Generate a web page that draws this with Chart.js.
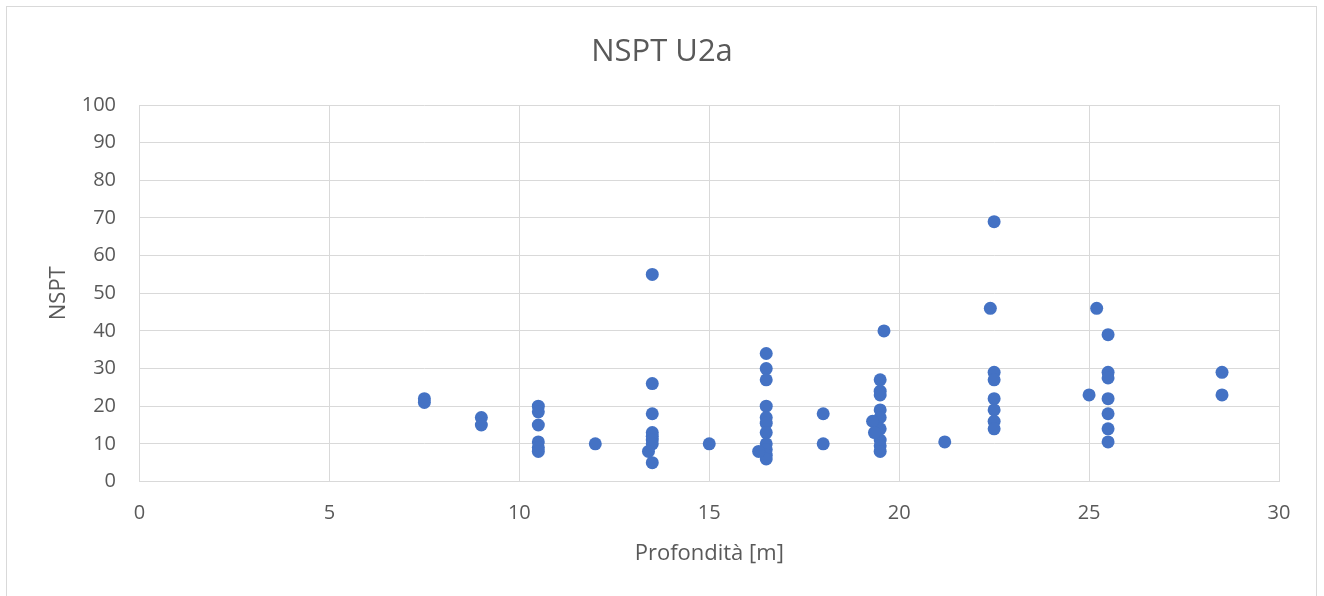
<!DOCTYPE html>
<html>
<head>
<meta charset="utf-8">
<script src="https://cdn.jsdelivr.net/npm/chart.js@4/dist/chart.umd.min.js"></script>
<style>
  html, body { margin: 0; padding: 0; background: #ffffff; }
  body { width: 1324px; height: 596px; position: relative; overflow: hidden; }
  #frame { position: absolute; left: 6px; top: 6px; width: 1311px; height: 620px;
           border: 1px solid #d9d9d9; box-sizing: border-box; }
  #wrap { position: absolute; left: 0; top: 0; width: 1324px; height: 596px; }
</style>
</head>
<body>
<div id="frame"></div>
<div id="wrap"><canvas id="chart" width="1324" height="596"></canvas></div>
<script>
// Depth of each SPT test [m]
const depth = [
  7.5, 7.5,
  9, 9,
  10.5, 10.5, 10.5, 10.5, 10.5, 10.5,
  12,
  13.5, 13.5, 13.5, 13.5, 13.5, 13.5, 13.5, 13.5, 13.4,
  15,
  16.5, 16.5, 16.5, 16.5, 16.5, 16.5, 16.5, 16.5, 16.5, 16.5, 16.5, 16.3,
  18, 18,
  19.6, 19.5, 19.5, 19.5, 19.5, 19.5, 19.5, 19.5, 19.5, 19.5, 19.3, 19.35,
  21.2,
  22.4, 22.5, 22.5, 22.5, 22.5, 22.5, 22.5, 22.5,
  25, 25.2,
  25.5, 25.5, 25.5, 25.5, 25.5, 25.5, 25.5,
  28.5, 28.5
];

// NSPT blow count measured at each depth
const nspt = [
  22, 21,
  17, 15,
  20, 18.5, 15, 10.5, 9, 8,
  10,
  55, 26, 18, 13, 12, 11, 10, 5, 8,
  10,
  34, 30, 27, 20, 17, 15.5, 13, 10, 8.5, 7, 6, 8,
  18, 10,
  40, 27, 24, 23, 19, 17, 14, 11, 9.5, 8, 16, 13,
  10.5,
  46, 69, 29, 27, 22, 19, 16, 14,
  23, 46,
  39, 29, 27.5, 22, 18, 14, 10.5,
  29, 23
];

const xTicks = [0, 5, 10, 15, 20, 25, 30];
const yTicks = [0, 10, 20, 30, 40, 50, 60, 70, 80, 90, 100];

const points = depth.map((d, i) => ({ x: d, y: nspt[i] }));

const textColor = '#595959';
const gridColor = '#d9d9d9';
const family = "'Open Sans', 'Noto Sans', sans-serif";

new Chart(document.getElementById('chart'), {
  type: 'scatter',
  data: {
    datasets: [{
      label: 'NSPT',
      data: points,
      backgroundColor: '#4472c4',
      borderColor: '#4472c4',
      borderWidth: 0,
      pointRadius: 6.5,
      pointHoverRadius: 6.5,
      xAxisID: 'x',
      yAxisID: 'y'
    }]
  },
  options: {
    responsive: false,
    animation: false,
    events: [],
    layout: { padding: { left: 0, right: 0, top: 0, bottom: 14.5 } },
    plugins: {
      legend: { display: false },
      tooltip: { enabled: false },
      title: {
        display: true,
        text: 'NSPT U2a',
        color: textColor,
        font: { family: family, size: 31, weight: 'normal' },
        padding: { top: 33.4, bottom: 34.4 }
      }
    },
    scales: {
      x: {
        type: 'linear',
        min: 0,
        max: 30,
        afterBuildTicks: (s) => { s.ticks = xTicks.map(v => ({ value: v })); },
        afterFit: (s) => { s.height = 100; },
        grid: { color: gridColor, lineWidth: 1, drawTicks: false },
        border: { color: gridColor, width: 1 },
        ticks: {
          color: textColor,
          padding: 20,
          font: { family: family, size: 20 },
          maxRotation: 0
        },
        title: {
          display: true,
          text: 'Profondità [m]',
          color: textColor,
          font: { family: family, size: 22 },
          padding: { top: 0, bottom: 14.3 }
        }
      },
      y: {
        type: 'linear',
        min: 0,
        max: 100,
        afterBuildTicks: (s) => { s.ticks = yTicks.map(v => ({ value: v })); },
        afterFit: (s) => { s.width = 139.5; },
        grid: { color: gridColor, lineWidth: 1, drawTicks: false },
        border: { color: gridColor, width: 1 },
        ticks: {
          color: textColor,
          padding: 23.5,
          font: { family: family, size: 20 }
        },
        title: {
          display: true,
          text: 'NSPT',
          color: textColor,
          font: { family: family, size: 22 },
          padding: { top: 45.5, bottom: 0 }
        }
      },
      // empty right-hand margin so the title stays centred on the full frame
      yRight: {
        type: 'linear',
        position: 'right',
        min: 0,
        max: 1,
        afterFit: (s) => { s.width = 45; },
        grid: { display: false, drawTicks: false },
        border: { display: false },
        ticks: { display: false }
      }
    }
  }
});
</script>
</body>
</html>
